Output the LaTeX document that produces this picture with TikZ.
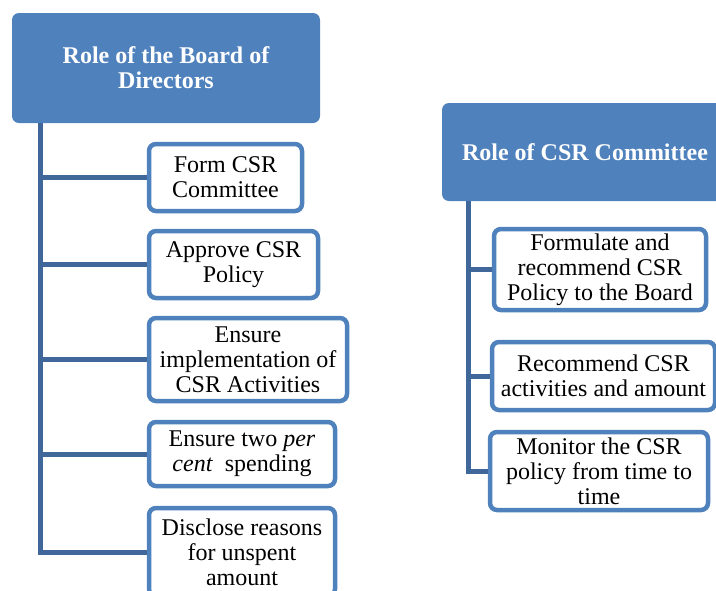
\documentclass[tikz,border=0pt]{standalone}
\usepackage{fontspec}
\setmainfont{Liberation Serif}
\usetikzlibrary{positioning}
\definecolor{boxblue}{HTML}{4F81BD}
\definecolor{stemblue}{HTML}{3F679A}
\tikzset{
    kopf/.style={
           rectangle, rounded corners=7pt,
           fill=boxblue, draw=none,
           text=white, font=\fontsize{24pt}{25pt}\selectfont\bfseries,
           align=center, inner sep=0pt},
    punkt/.style={
           rectangle, rounded corners=7pt,
           draw=boxblue, line width=4.5pt, fill=white,
           font=\fontsize{24pt}{25pt}\selectfont,
           align=center, inner sep=0pt},
    stamm/.style={
           draw=stemblue, line width=5pt}
}
\begin{document}
\begin{tikzpicture}[x=1pt, y=-1pt]
        \clip (0,0) rectangle (716,590);
        \fill[white] (0,0) rectangle (716,590);

        % board of directors
        \node[kopf, minimum width=308, minimum height=110] (board) at (166,68)
            {Role of the Board of\\Directors};
        \node[punkt, minimum width=153, minimum height=67] (b1) at (225.5,177.5) {Form CSR\\Committee};
        \node[punkt, minimum width=169, minimum height=67] (b2) at (233.5,264.5) {Approve CSR\\Policy};
        \node[punkt, minimum width=198, minimum height=83] (b3) at (248,359.5) {Ensure\\implementation of\\CSR Activities};
        \node[punkt, minimum width=186, minimum height=64] (b4) at (242,454) {Ensure two \textit{per}\\\textit{cent}~ spending};
        \node[punkt, minimum width=186, minimum height=88] (b5) at (242,552) {Disclose reasons\\for unspent\\amount};
        \coordinate (stA) at (40.5,123);

        \draw[stamm] (stA) |- (b5.west);
        \foreach \k in {b1,b2,b3,b4}
            \draw[stamm] (stA |- \k.west) -- (\k.west);

        % csr committee
        \node[kopf, minimum width=286, minimum height=98] (comm) at (585,152) {Role of CSR Committee};
        \node[punkt, minimum width=212, minimum height=81] (c1) at (600,269.5) {Formulate and\\recommend CSR\\Policy to the Board};
        \node[punkt, minimum width=223, minimum height=68] (c2) at (603.5,376) {Recommend CSR\\activities and amount};
        \node[punkt, minimum width=218, minimum height=78] (c3) at (599,471) {Monitor the CSR\\policy from time to\\time};
        \coordinate (stB) at (468,201);

        \draw[stamm] (stB) |- (c3.west);
        \foreach \k in {c1,c2}
            \draw[stamm] (stB |- \k.west) -- (\k.west);

    \end{tikzpicture}
\end{document}
